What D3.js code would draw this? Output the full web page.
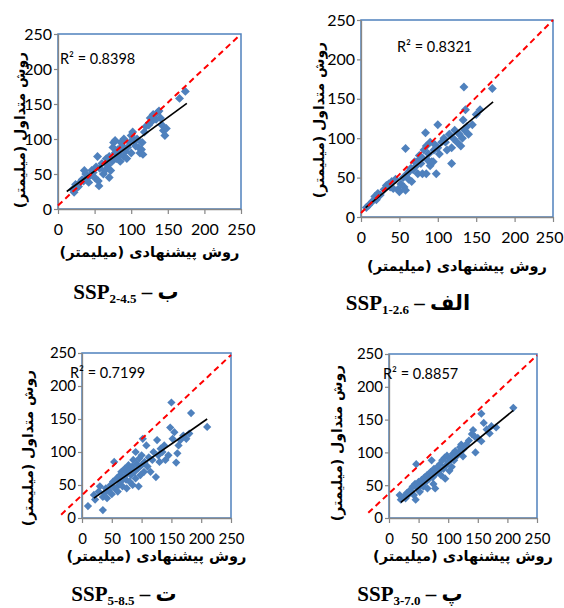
<!DOCTYPE html>
<html>
<head>
<meta charset="utf-8">
<script src="https://cdn.jsdelivr.net/npm/d3@7"></script>
<style>
  body { margin: 0; background: #fff; }
  svg { display: block; }
</style>
</head>
<body>
<script>
// shared axis ticks and titles
const tickValues = [0, 50, 100, 150, 200, 250];
const xTitle = "روش پیشنهادی (میلیمتر)";
const yTitle = "روش متداول (میلیمتر)";

// panel order: top-left, top-right, bottom-left, bottom-right
const panelLetters = ["ب", "الف", "ت", "پ"];
const scenarios = ["2-4.5", "1-2.6", "5-8.5", "3-7.0"];
const r2Values = ["0.8398", "0.8321", "0.7199", "0.8857"];

// [proposed, conventional] in mm
const points245 = [
  [20,28],[22,24],[24,35],[25,30],[28,32],[30,38],[33,42],[35,40],[36,55],[38,50],
  [40,45],[42,38],[44,48],[46,55],[48,52],[50,45],[52,60],[54,75],[55,40],[56,33],
  [57,58],[60,65],[62,50],[64,55],[66,72],[68,62],[70,45],[70,75],[72,55],[74,68],
  [75,88],[76,95],[78,98],[78,80],[80,72],[82,85],[84,78],[85,68],[86,95],[88,90],
  [90,75],[90,100],[92,82],[94,72],[95,88],[98,95],[100,80],[100,105],[102,110],[104,98],
  [106,90],[108,100],[110,88],[112,80],[114,85],[115,95],[116,78],[118,110],[120,118],[124,120],
  [126,130],[128,125],[130,135],[134,128],[136,138],[138,140],[140,130],[142,120],[144,112],[146,105],
  [148,115],[166,158],[174,168]
];
const points126 = [
  [7,12],[10,15],[15,20],[18,26],[20,22],[22,30],[25,28],[30,35],[33,40],[36,42],
  [38,38],[40,45],[42,36],[45,48],[48,35],[50,32],[52,42],[55,50],[56,38],[58,34],
  [58,87],[60,55],[62,48],[63,58],[65,62],[66,45],[68,60],[70,70],[72,65],[74,55],
  [75,72],[76,78],[78,68],[80,75],[80,55],[82,85],[84,107],[85,55],[85,90],[87,72],
  [88,80],[90,65],[90,95],[92,70],[94,70],[95,85],[96,92],[98,55],[100,117],[100,88],
  [102,80],[105,95],[108,100],[110,95],[112,85],[115,105],[118,68],[118,88],[120,100],[122,110],
  [125,95],[128,105],[130,90],[132,100],[133,123],[134,165],[135,110],[136,136],[138,115],[140,105],
  [145,117],[150,130],[155,136],[171,163]
];
const points585 = [
  [10,18],[20,35],[22,28],[28,40],[30,48],[35,12],[35,32],[38,38],[40,45],[42,30],
  [45,42],[48,50],[50,36],[52,55],[54,85],[55,45],[58,60],[60,40],[62,50],[64,65],
  [65,55],[66,70],[68,48],[70,62],[72,75],[74,58],[75,45],[76,68],[78,80],[80,55],
  [80,72],[82,65],[84,78],[85,50],[86,88],[88,70],[90,100],[90,60],[92,82],[94,75],
  [95,48],[96,90],[98,65],[100,80],[100,95],[102,120],[104,70],[105,85],[108,110],[110,78],
  [112,92],[115,70],[118,88],[120,100],[124,62],[126,118],[128,95],[130,85],[132,105],[135,100],
  [138,110],[140,88],[145,95],[148,137],[150,175],[152,120],[155,130],[158,84],[160,98],[162,110],
  [165,118],[170,125],[175,120],[180,128],[183,159],[210,138]
];
const points370 = [
  [18,35],[20,28],[24,32],[28,30],[30,38],[32,35],[35,42],[38,40],[40,48],[42,35],
  [44,52],[45,28],[46,82],[48,45],[50,55],[52,40],[54,50],[55,58],[58,48],[60,62],
  [62,55],[64,65],[65,45],[68,60],[70,70],[72,88],[74,62],[75,52],[76,75],[78,45],
  [80,68],[82,78],[84,72],[86,82],[88,65],[90,88],[92,75],[94,92],[95,60],[96,80],
  [98,95],[100,85],[102,72],[104,90],[106,78],[108,98],[110,88],[112,102],[115,95],[118,100],
  [120,108],[122,112],[125,94],[126,105],[130,112],[135,118],[140,128],[142,134],[145,124],[146,100],
  [150,122],[156,117],[156,159],[160,145],[165,135],[170,129],[173,140],[181,138],[210,168]
];

// linear trend line end points
const trend245 = [[12,25],[176,151]];
const trend126 = [[6,12],[172,146]];
const trend585 = [[20,30],[210,150]];
const trend370 = [[20,24],[210,164]];

// red dashed 1:1 reference line end points (as drawn in the source)
const ref245 = [[0,5],[248,248]];
const ref126 = [[0,5],[250,250]];
const ref585 = [[-35,5],[250,247]];
const ref370 = [[-35,8],[250,248]];

// screen layout of each panel
const layout = [
  {l: 58, t: 34, r: 241, b: 209, font: 16, mark: 40, r2x: 60, r2y: 64, ytx: 20, yty: 130, xty: 257, capx: 126, capy: 299},
  {l: 361, t: 20, r: 553, b: 217, font: 16, mark: 40, r2x: 397, r2y: 52, ytx: 319, yty: 120, xty: 271, capx: 408, capy: 310},
  {l: 82, t: 353, r: 231, b: 518, font: 15, mark: 34, r2x: 70, r2y: 378, ytx: 28, yty: 448, xty: 561, capx: 124, capy: 601},
  {l: 389, t: 354, r: 537, b: 518, font: 15, mark: 34, r2x: 383, r2y: 379, ytx: 337, yty: 443, xty: 561, capx: 410, capy: 601}
];

const panels = [
  {pts: points245, trend: trend245, ref: ref245},
  {pts: points126, trend: trend126, ref: ref126},
  {pts: points585, trend: trend585, ref: ref585},
  {pts: points370, trend: trend370, ref: ref370}
];

const W = 564, H = 608;
const svg = d3.select("body").append("svg")
  .attr("width", W)
  .attr("height", H);

const blue = "#4F81BD";
const axisGray = "#868686";

function drawPanel(d, i) {
  const p = layout[i];
  const x = d3.scaleLinear().domain([0, 250]).range([p.l, p.r]);
  const y = d3.scaleLinear().domain([0, 250]).range([p.b, p.t]);
  const g = svg.append("g");

  // plot area border
  g.append("rect")
    .attr("x", p.l).attr("y", p.t)
    .attr("width", p.r - p.l).attr("height", p.b - p.t)
    .attr("fill", "none")
    .attr("stroke", blue)
    .attr("stroke-width", 1.5);

  // axes
  const xa = g.append("g")
    .attr("transform", "translate(0," + p.b + ")")
    .call(d3.axisBottom(x).tickValues(tickValues).tickSize(5).tickSizeOuter(0).tickPadding(10));
  const ya = g.append("g")
    .attr("transform", "translate(" + p.l + ",0)")
    .call(d3.axisLeft(y).tickValues(tickValues).tickSize(4).tickSizeOuter(0).tickPadding(2));
  [xa, ya].forEach(a => {
    a.select(".domain").attr("stroke", axisGray).attr("stroke-width", 1.3);
    a.selectAll(".tick line").attr("stroke", axisGray).attr("stroke-width", 1.2);
    a.selectAll("text")
      .attr("fill", "#000")
      .style("font-family", "Lato, 'Liberation Sans', sans-serif")
      .style("font-size", p.font + "px");
  });

  // keep the last x label inside the page, as the source does
  xa.selectAll(".tick text").each(function(v) {
    const over = x(v) + this.getBBox().width / 2 - (W - 1);
    if (over > 0) d3.select(this).attr("x", -over);
  });

  // observations
  g.selectAll(".pt")
    .data(d.pts).enter()
    .append("path")
    .attr("class", "pt")
    .attr("d", d3.symbol(d3.symbolSquare, p.mark))
    .attr("transform", v => "translate(" + x(v[0]) + "," + y(v[1]) + ") rotate(45)")
    .attr("fill", blue);

  // trend line
  g.append("line")
    .attr("x1", x(d.trend[0][0])).attr("y1", y(d.trend[0][1]))
    .attr("x2", x(d.trend[1][0])).attr("y2", y(d.trend[1][1]))
    .attr("stroke", "#000")
    .attr("stroke-width", 1.6);

  // 1:1 line
  g.append("line")
    .attr("x1", x(d.ref[0][0])).attr("y1", y(d.ref[0][1]))
    .attr("x2", x(d.ref[1][0])).attr("y2", y(d.ref[1][1]))
    .attr("stroke", "#FF0000")
    .attr("stroke-width", 2)
    .attr("stroke-dasharray", "6,4");

  // R squared label
  g.append("text")
    .attr("x", p.r2x).attr("y", p.r2y)
    .style("font-family", "Lato, 'Liberation Sans', sans-serif")
    .style("font-size", "14.5px")
    .text("R² = " + r2Values[i]);

  // axis titles
  g.append("text")
    .attr("x", (p.l + p.r) / 2).attr("y", p.xty)
    .attr("text-anchor", "middle")
    .style("font-family", "'DejaVu Sans', sans-serif")
    .style("font-weight", "bold")
    .style("font-size", "14.5px")
    .text(xTitle);
  g.append("text")
    .attr("transform", "translate(" + p.ytx + "," + p.yty + ") rotate(-90)")
    .attr("text-anchor", "middle")
    .attr("dy", "0.35em")
    .style("font-family", "'DejaVu Sans', sans-serif")
    .style("font-weight", "bold")
    .style("font-size", "14px")
    .text(yTitle);

  // caption under panel
  const cap = svg.append("text")
    .attr("x", p.capx).attr("y", p.capy)
    .attr("text-anchor", "middle")
    .attr("direction", "ltr")
    .style("font-family", "'Liberation Serif', 'DejaVu Sans', serif")
    .style("font-weight", "bold")
    .style("font-size", "21px");
  cap.append("tspan").text("SSP");
  cap.append("tspan").attr("dy", 3.5).style("font-size", "13px").text(scenarios[i]);
  cap.append("tspan").attr("dy", -3.5).text(" \u2013 " + panelLetters[i]);
}

panels.forEach(drawPanel);
</script>
</body>
</html>
